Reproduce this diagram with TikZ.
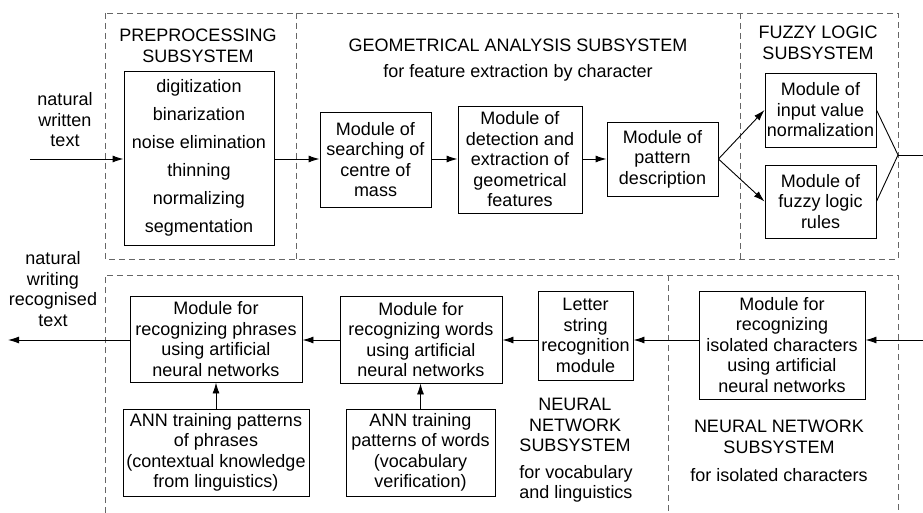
\documentclass[tikz,border=0pt]{standalone}
\usepackage{fontspec}
\setmainfont{Liberation Sans}
\usetikzlibrary{arrows.meta}
\begin{document}
\begin{tikzpicture}[x=1pt,y=-1pt,
    font=\fontsize{18}{20.5}\selectfont,
    module/.style={draw, line width=0.9pt, align=center, inner sep=0pt},
    txt/.style={align=center, inner sep=0pt},
    region/.style={draw=black!60, line width=0.9pt, dash pattern=on 6pt off 4pt},
    flow/.style={line width=0.9pt, -{Latex[length=11pt,width=7pt]}}]

    \useasboundingbox (0,0) rectangle (923,513);

    % Draw subsystem frames
    \draw[region] (105,13) rectangle (898,259);
    \draw[region] (296,13) -- (296,259);
    \draw[region] (740,13) -- (740,259);
    \draw[region] (105,513) -- (105,275) -- (898,275) -- (898,513);
    \draw[region] (668,275) -- (668,513);

    % Subsystem titles
    \node[txt] (preT) at (198,46) {PREPROCESSING\\SUBSYSTEM};
    \node[txt] (geoT) at (518,45) {GEOMETRICAL ANALYSIS SUBSYSTEM};
    \node[txt] (geoS) at (518,73) {for feature extraction by character};
    \node[txt] (fuzT) at (818,43) {FUZZY LOGIC\\SUBSYSTEM};
    \node[txt] (nnvT) at (575,425) {NEURAL\\NETWORK\\SUBSYSTEM};
    \node[txt] (nnvS) at (576,484) {for vocabulary\\and linguistics};
    \node[txt] (nniT) at (779,437) {NEURAL NETWORK\\SUBSYSTEM};
    \node[txt] (nniS) at (779,475) {for isolated characters};

    % Input and output texts
    \node[txt] (inT) at (65,120) {natural\\written\\text};
    \node[txt] (outT) at (53,289) {natural\\writing\\recognised\\text};

    % Modules, upper row
    \node[module, minimum width=150, minimum height=174,
          font=\fontsize{18}{28}\selectfont] (pre) at (199,158)
        {digitization\\binarization\\noise elimination\\thinning\\normalizing\\segmentation};
    \node[module, minimum width=111, minimum height=95] (mass) at (375.5,159.5)
        {Module of\\searching of\\centre of\\mass};
    \node[module, minimum width=124, minimum height=107] (geo) at (520,159.5)
        {Module of\\detection and\\extraction of\\geometrical\\features};
    \node[module, minimum width=111, minimum height=74] (patt) at (662.5,159)
        {Module of\\pattern\\description};
    \node[module, minimum width=111, minimum height=74] (norm) at (820.5,110)
        {Module of\\input value\\normalization};
    \node[module, minimum width=111, minimum height=73] (rules) at (820.5,201.5)
        {Module of\\fuzzy logic\\rules};

    % Modules, lower row
    \node[module, minimum width=172, minimum height=86] (phr) at (216,339)
        {Module for\\recognizing phrases\\using artificial\\neural networks};
    \node[module, minimum width=186, minimum height=87] (annP) at (216,452.5)
        {ANN training patterns\\of phrases\\(contextual knowledge\\from linguistics)};
    \node[module, minimum width=162, minimum height=87] (words) at (421,339.5)
        {Module for\\recognizing words\\using artificial\\neural networks};
    \node[module, minimum width=149, minimum height=87] (annW) at (420.5,452.5)
        {ANN training\\patterns of words\\(vocabulary\\verification)};
    \node[module, minimum width=95, minimum height=89] (letter) at (585.5,335.5)
        {Letter\\string\\recognition\\module};
    \node[module, minimum width=166, minimum height=108] (iso) at (782,345)
        {Module for\\recognizing\\isolated characters\\using artificial\\neural networks};

    % Free ends
    \coordinate (in1) at (30,159);
    \coordinate (join) at (898,155);
    \coordinate (out1) at (923,155);
    \coordinate (in2) at (923,340);
    \coordinate (out2) at (8,340);

    % Upper flow
    \draw[flow] (in1) -- (in1 -| pre.west);
    \draw[flow] (pre.east |- in1) -- (in1 -| mass.west);
    \draw[flow] (mass.east |- in1) -- (in1 -| geo.west);
    \draw[flow] (geo.east |- in1) -- (in1 -| patt.west);
    \draw[flow] (patt.east) -- (norm.west);
    \draw[flow] (patt.east) -- (rules.west);
    \draw[line width=0.9pt] (norm.east) -- (join) -- (rules.east);
    \draw[line width=0.9pt] (join) -- (out1);

    % Lower flow
    \draw[flow] (in2) -- (in2 -| iso.east);
    \draw[flow] (iso.west |- in2) -- (in2 -| letter.east);
    \draw[flow] (letter.west |- in2) -- (in2 -| words.east);
    \draw[flow] (words.west |- in2) -- (in2 -| phr.east);
    \draw[flow] (phr.west |- in2) -- (out2);
    \draw[flow] (annP.north) -- (phr.south);
    \draw[flow] (annW.north) -- (annW.north |- words.south);
\end{tikzpicture}
\end{document}
